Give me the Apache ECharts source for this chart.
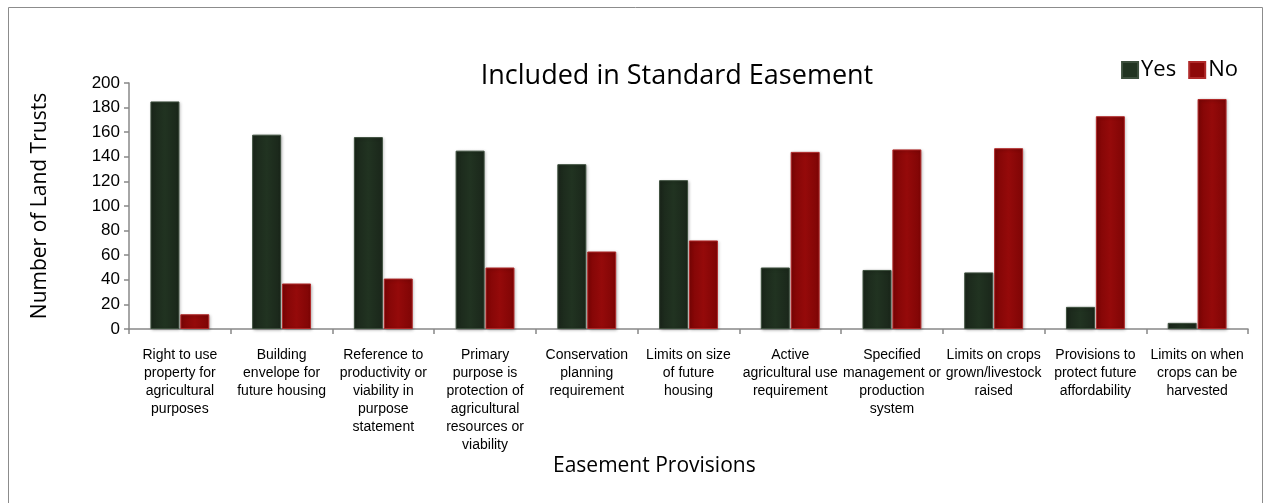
<!DOCTYPE html>
<html>
<head>
<meta charset="utf-8">
<script src="https://cdn.jsdelivr.net/npm/echarts@6/dist/echarts.min.js"></script>
<style>
  html, body { margin: 0; padding: 0; background: #fff; }
  #main { width: 1265px; height: 503px; }
</style>
</head>
<body>
<div id="main"></div>
<script>
var categories = [
  'Right to use\nproperty for\nagricultural\npurposes',
  'Building\nenvelope for\nfuture housing',
  'Reference to\nproductivity or\nviability in\npurpose\nstatement',
  'Primary\npurpose is\nprotection of\nagricultural\nresources or\nviability',
  'Conservation\nplanning\nrequirement',
  'Limits on size\nof future\nhousing',
  'Active\nagricultural use\nrequirement',
  'Specified\nmanagement or\nproduction\nsystem',
  'Limits on crops\ngrown/livestock\nraised',
  'Provisions to\nprotect future\naffordability',
  'Limits on when\ncrops can be\nharvested'
]
var yesValues = [185, 158, 156, 145, 134, 121, 50, 48, 46, 18, 5]
var noValues = [12, 37, 41, 50, 63, 72, 144, 146, 147, 173, 187]
var yTicks = [0, 20, 40, 60, 80, 100, 120, 140, 160, 180, 200]

var dom = document.getElementById('main')
var myChart = echarts.init(dom)
var option = null

// bevel look: darker edges, slightly lighter middle
var yesColor = new echarts.graphic.LinearGradient(0, 0, 1, 0, [
  { offset: 0, color: '#1a261a' },
  { offset: 0.5, color: '#213321' },
  { offset: 1, color: '#1a261a' }
])
var noColor = new echarts.graphic.LinearGradient(0, 0, 1, 0, [
  { offset: 0, color: '#7e0505' },
  { offset: 0.5, color: '#950a0a' },
  { offset: 1, color: '#7e0505' }
])

option = {
  backgroundColor: '#ffffff',
  animation: false,
  title: {
    text: 'Included in Standard Easement',
    left: 672,
    top: 58,
    textAlign: 'center',
    textStyle: {
      fontFamily: 'Open Sans',
      fontWeight: 'normal',
      fontSize: 27,
      color: '#000'
    }
  },
  legend: {
    right: 22,
    top: 54,
    itemWidth: 16,
    itemHeight: 16,
    itemGap: 12,
    icon: 'rect',
    textStyle: {
      fontFamily: 'Open Sans',
      fontSize: 22,
      color: '#000',
      padding: [0, 0, 0, -2]
    },
    data: [
      { name: 'Yes', itemStyle: { color: '#223422' } },
      { name: 'No', itemStyle: { color: '#8e0808' } }
    ]
  },
  graphic: [
    {
      type: 'rect',
      shape: { x: 8.5, y: 7.5, width: 1254, height: 500 },
      style: { fill: 'none', stroke: '#8c8c8c', lineWidth: 1 },
      silent: true
    },
    {
      // x axis title
      type: 'text',
      left: 663 - 110,
      top: 456,
      style: {
        text: 'Easement Provisions',
        fontFamily: 'Open Sans',
        fontSize: 21,
        fill: '#000'
      },
      silent: true
    }
  ],
  grid: {
    left: 129,
    right: 17,
    top: 83,
    bottom: 174
  },
  xAxis: {
    type: 'category',
    data: categories,
    axisLine: { lineStyle: { color: '#888888', width: 1.5 } },
    axisTick: { show: true, length: 5, lineStyle: { color: '#888888', width: 1.5 } },
    axisLabel: {
      interval: 0,
      margin: 17,
      fontFamily: 'Liberation Sans',
      fontSize: 14,
      lineHeight: 18,
      color: '#000'
    }
  },
  yAxis: {
    type: 'value',
    min: 0,
    max: 200,
    interval: 20,
    name: 'Number of Land Trusts',
    nameLocation: 'middle',
    nameGap: 78,
    nameTextStyle: {
      fontFamily: 'Open Sans',
      fontSize: 21,
      color: '#000'
    },
    axisLine: { show: true, lineStyle: { color: '#888888', width: 1.5 } },
    axisTick: { show: true, length: 5, lineStyle: { color: '#888888', width: 1.5 } },
    splitLine: { show: false },
    axisLabel: {
      margin: 9,
      fontFamily: 'Liberation Sans',
      fontSize: 17,
      color: '#000',
      formatter: function (v) {
        return yTicks.indexOf(v) >= 0 ? String(v) : ''
      }
    }
  },
  series: [
    {
      name: 'Yes',
      type: 'bar',
      barWidth: 29,
      barGap: '3%',
      data: yesValues,
      itemStyle: {
        color: yesColor,
        borderColor: '#3d4f3d',
        borderWidth: 1,
        shadowColor: 'rgba(0,0,0,0.25)',
        shadowBlur: 3,
        shadowOffsetX: 1,
        shadowOffsetY: 1
      }
    },
    {
      name: 'No',
      type: 'bar',
      barWidth: 29,
      data: noValues,
      itemStyle: {
        color: noColor,
        borderColor: '#b02a2a',
        borderWidth: 1,
        shadowColor: 'rgba(0,0,0,0.25)',
        shadowBlur: 3,
        shadowOffsetX: 1,
        shadowOffsetY: 1
      }
    }
  ]
}
if (option && typeof option === 'object') {
  myChart.setOption(option, true)
}
</script>
</body>
</html>
